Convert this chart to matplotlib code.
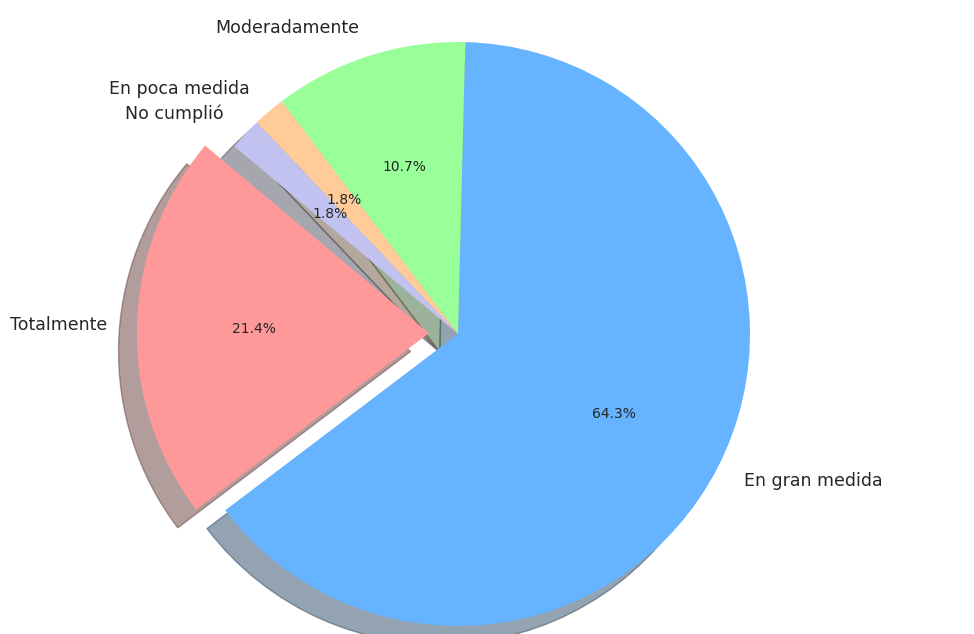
import matplotlib.pyplot as plt

labels = ['Totalmente', 'En gran medida', 'Moderadamente', 'En poca medida', 'No cumplió']
counts = [12, 36, 6, 1, 1]
colors = ['#ff9999', '#66b3ff', '#99ff99', '#ffcc99', '#c2c2f0']
explode = [0.1, 0, 0, 0, 0]

fig = plt.figure(figsize=(9.74, 6.34), dpi=100)
# axes sized so the pie radius is ~292 px, centred near (458, 334)
L = 1.3
r_px = 292
size = 2 * r_px * L
ax = fig.add_axes([(458 - size / 2) / 974, (300 - size / 2) / 634, size / 974, size / 634])

wedges, texts, autotexts = ax.pie(counts, labels=labels, colors=colors, explode=explode,
                                  autopct='%1.1f%%', startangle=140,
                                  shadow={'ox': -0.045, 'oy': -0.045, 'shade': 0.6},
                                  textprops={'color': '#262626'})
for t in texts:
    t.set_fontsize(12.5)
for t in autotexts:
    t.set_fontsize(10)

ax.set_xlim(-L, L)
ax.set_ylim(-L, L)
ax.set_aspect('equal')

plt.savefig('out.png', dpi=100)
